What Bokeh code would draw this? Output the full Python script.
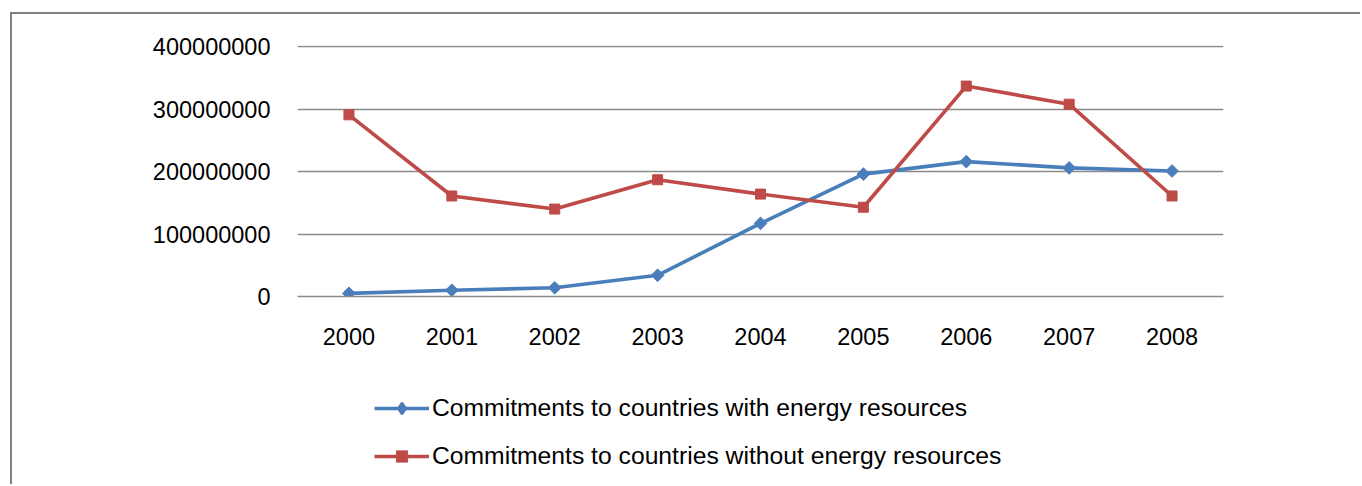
import math
from bokeh.plotting import figure
from bokeh.layouts import column
from bokeh.models import (Range1d, FactorRange, FixedTicker, BasicTickFormatter,
                          Legend, LegendItem)
from bokeh.embed import file_html
from bokeh.resources import INLINE

years = ["2000", "2001", "2002", "2003", "2004", "2005", "2006", "2007", "2008"]
with_energy = [5e6, 10e6, 14e6, 34e6, 117e6, 196e6, 216e6, 206e6, 201e6]
without_energy = [291e6, 161e6, 140e6, 187e6, 164e6, 143e6, 337e6, 308e6, 161e6]
y_ticks = [0, 100000000, 200000000, 300000000, 400000000]

label_with = "Commitments to countries with energy resources"
label_without = "Commitments to countries without energy resources"

BLUE = "#4a7ebb"
RED = "#be4b48"
GRID = "#8a8a8a"
BORDER = "2px solid #808080"
FONT = "Liberation Sans"

OX, OY = 12, 14          # page offset of the chart box content
SPLIT = 380              # page y where legend strip starts
W = 1362 - OX
FRAME_LEFT = 297

# ---------------- main chart ----------------
p = figure(width=W, height=SPLIT - OY,
           x_range=FactorRange(*years, range_padding=0),
           y_range=Range1d(0, 402000000), output_backend="svg", toolbar_location=None,
           min_border_left=FRAME_LEFT - OX, min_border_right=139, min_border_top=45 - OY,
           min_border_bottom=SPLIT - 296)
p.styles = {"margin-left": "10px", "margin-top": "12px",
            "border-left": BORDER, "border-top": BORDER}
p.outline_line_color = None
p.background_fill_color = "white"
p.border_fill_color = "white"

p.xgrid.grid_line_color = None
p.ygrid.grid_line_color = GRID
p.ygrid.grid_line_width = 1.5
p.ygrid.ticker = FixedTicker(ticks=y_ticks)

p.yaxis.ticker = FixedTicker(ticks=y_ticks)
p.yaxis.formatter = BasicTickFormatter(use_scientific=False)
p.yaxis.axis_line_color = None
p.yaxis.major_tick_line_color = None
p.yaxis.minor_tick_line_color = None
p.yaxis.major_tick_out = 0
p.yaxis.major_tick_in = 0
p.yaxis.major_label_standoff = 27
p.yaxis.major_label_text_font = FONT
p.yaxis.major_label_text_font_size = "23.5px"
p.yaxis.major_label_text_color = "black"

p.xaxis.axis_line_color = GRID
p.xaxis.axis_line_width = 1.5
p.xaxis.major_tick_line_color = None
p.xaxis.minor_tick_line_color = None
p.xaxis.major_tick_out = 0
p.xaxis.major_tick_in = 0
p.xaxis.major_label_standoff = 31
p.xaxis.major_label_text_font = FONT
p.xaxis.major_label_text_font_size = "23.5px"
p.xaxis.major_label_text_color = "black"

p.line(years, with_energy, line_color=BLUE, line_width=3.6)
p.scatter(years, with_energy, marker="square", size=9, angle=math.pi / 4,
          fill_color=BLUE, line_color=BLUE)
p.line(years, without_energy, line_color=RED, line_width=3.6)
p.scatter(years, without_energy, marker="square", size=10,
          fill_color=RED, line_color=RED)

# ---------------- legend strip ----------------
leg = figure(width=W, height=486 - SPLIT, x_range=Range1d(0, 1), y_range=Range1d(0, 1),
             x_axis_type=None, y_axis_type=None, output_backend="svg",
             toolbar_location=None, min_border=0)
leg.styles = {"margin-left": "10px", "border-left": BORDER}
leg.outline_line_color = None
leg.xgrid.grid_line_color = None
leg.ygrid.grid_line_color = None
leg.background_fill_color = "white"
leg.border_fill_color = "white"

# legend key renderers (kept outside the visible range; only their keys are drawn)
key_x = [5, 6]
key_y = [5, 6]
k1 = leg.line(key_x, key_y, line_color=BLUE, line_width=3.6)
k1s = leg.scatter(key_x, key_y, marker="diamond", size=12,
                  fill_color=BLUE, line_color=BLUE, line_width=2.5)
k2 = leg.line(key_x, key_y, line_color=RED, line_width=3.6)
k2s = leg.scatter(key_x, key_y, marker="square", size=10, fill_color=RED, line_color=RED)

legend = Legend(items=[LegendItem(label=label_with, renderers=[k1, k1s]),
                       LegendItem(label=label_without, renderers=[k2, k2s])],
                location=(374 - FRAME_LEFT, 14), orientation="vertical",
                border_line_color=None, background_fill_alpha=0,
                padding=0, margin=0, spacing=20,
                glyph_width=55, glyph_height=28, label_height=24,
                label_standoff=3, label_text_font=FONT,
                label_text_font_size="24.7px", label_text_color="black")
leg.add_layout(legend, "center")

layout = column(p, leg, spacing=0)
open("out.html", "w").write(file_html(layout, INLINE))
